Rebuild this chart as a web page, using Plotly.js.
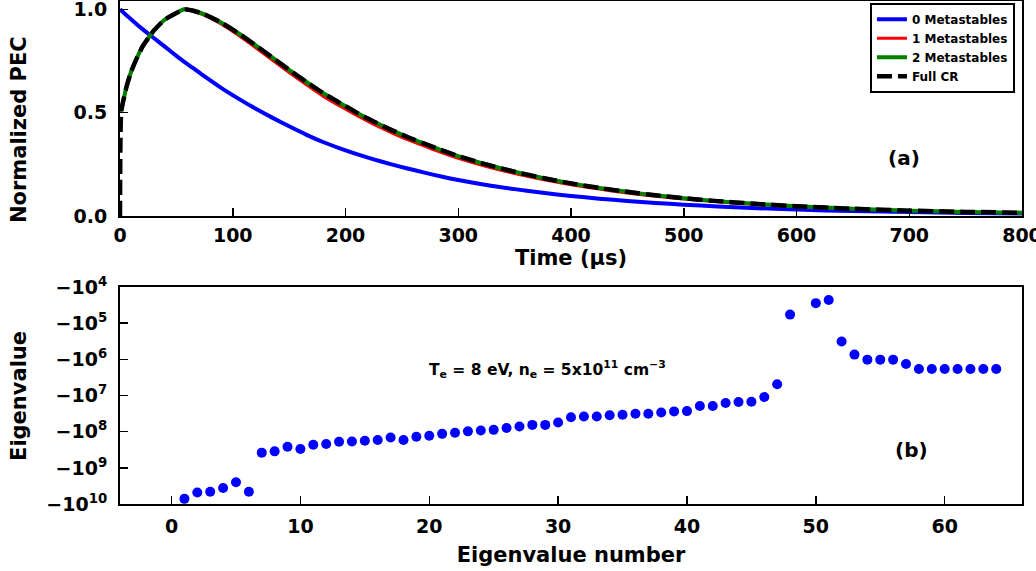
<!DOCTYPE html>
<html>
<head>
<meta charset="utf-8">
<script src="https://cdn.plot.ly/plotly-3.0.1.min.js"></script>
<style>
  html, body { margin: 0; padding: 0; background: #ffffff; }
  #chart { width: 1036px; height: 571px; }
</style>
</head>
<body>
<div id="chart"></div>
<script>
// ---------- Panel (a): normalized PEC vs time ----------
const time = [0, 3, 6, 10, 15, 20, 25, 30, 40, 50, 57, 65, 75, 90, 105, 120, 135, 150, 165, 180,
  195, 210, 225, 240, 255, 270, 285, 300, 325, 350, 375, 400, 425, 450, 475, 500, 530, 560, 600, 650, 700, 750, 800];

const pec0Meta = [1.0, 0.985, 0.970, 0.951, 0.927, 0.904, 0.882, 0.861, 0.818, 0.775, 0.746, 0.715, 0.675,
  0.619, 0.568, 0.52, 0.476, 0.434, 0.394, 0.358, 0.327, 0.299, 0.274, 0.251, 0.23, 0.21, 0.191, 0.174,
  0.150, 0.130, 0.112, 0.097, 0.084, 0.073, 0.063, 0.055, 0.046, 0.039, 0.031, 0.024, 0.019, 0.015, 0.012];

const pec1Meta = [0.50, 0.56, 0.63, 0.70, 0.765, 0.82, 0.86, 0.897, 0.951, 0.982, 1.0, 0.99, 0.97,
  0.928, 0.874, 0.815, 0.754, 0.694, 0.636, 0.58, 0.532, 0.486, 0.443, 0.405, 0.369, 0.338, 0.307, 0.279,
  0.239, 0.205, 0.176, 0.151, 0.13, 0.111, 0.095, 0.082, 0.069, 0.057, 0.045, 0.034, 0.025, 0.019, 0.014];

const pec2Meta = [0.50, 0.56, 0.63, 0.70, 0.765, 0.82, 0.86, 0.897, 0.951, 0.982, 1.0, 0.993, 0.975,
  0.935, 0.884, 0.827, 0.767, 0.707, 0.65, 0.595, 0.547, 0.50, 0.457, 0.418, 0.382, 0.35, 0.319, 0.29,
  0.249, 0.214, 0.184, 0.158, 0.136, 0.117, 0.10, 0.086, 0.072, 0.06, 0.047, 0.035, 0.026, 0.02, 0.016];

const timeFull = [0, 1, 3, 6, 10, 15, 20, 25, 30, 40, 50, 57, 65, 75, 90, 105, 120, 135, 150, 165, 180,
  195, 210, 225, 240, 255, 270, 285, 300, 325, 350, 375, 400, 425, 450, 475, 500, 530, 560, 600, 650, 700, 750, 800];
const pecFull = [0.0, 0.5, 0.56, 0.63, 0.70, 0.765, 0.82, 0.86, 0.897, 0.951, 0.982, 1.0, 0.993, 0.975,
  0.935, 0.884, 0.827, 0.767, 0.707, 0.65, 0.595, 0.547, 0.50, 0.457, 0.418, 0.382, 0.35, 0.319, 0.29,
  0.249, 0.214, 0.184, 0.158, 0.136, 0.117, 0.10, 0.086, 0.072, 0.06, 0.047, 0.035, 0.026, 0.02, 0.016];

const seriesNames = ['0 Metastables', '1 Metastables', '2 Metastables', 'Full CR'];
const timeTicks = [0, 100, 200, 300, 400, 500, 600, 700, 800];
const pecTicks = [0.0, 0.5, 1.0];
const pecTickText = ['0.0', '0.5', '1.0'];

// ---------- Panel (b): eigenvalues ----------
const eigNum = [1, 2, 3, 4, 5, 6, 7, 8, 9, 10, 11, 12, 13, 14, 15, 16, 17, 18, 19, 20,
  21, 22, 23, 24, 25, 26, 27, 28, 29, 30, 31, 32, 33, 34, 35, 36, 37, 38, 39, 40,
  41, 42, 43, 44, 45, 46, 47, 48, 50, 51, 52, 53, 54, 55, 56, 57, 58, 59, 60, 61, 62, 63, 64];
const eigVal = [-7.2e9, -4.8e9, -4.6e9, -3.6e9, -2.5e9, -4.6e9, -3.8e8, -3.5e8, -2.6e8, -3.0e8,
  -2.3e8, -2.2e8, -1.9e8, -1.86e8, -1.78e8, -1.7e8, -1.45e8, -1.7e8, -1.38e8, -1.29e8,
  -1.15e8, -1.07e8, -9.8e7, -9.3e7, -8.9e7, -7.9e7, -7.2e7, -6.5e7, -6.5e7, -5.6e7,
  -4.0e7, -3.8e7, -3.8e7, -3.5e7, -3.4e7, -3.2e7, -3.2e7, -2.95e7, -2.75e7, -2.7e7,
  -1.95e7, -1.95e7, -1.62e7, -1.51e7, -1.48e7, -1.1e7, -4.9e6, -5.8e4, -2.8e4, -2.3e4,
  -3.2e5, -7.4e5, -1.02e6, -1.02e6, -1.02e6, -1.35e6, -1.86e6, -1.86e6, -1.86e6, -1.86e6,
  -1.86e6, -1.86e6, -1.86e6];
const eigTicks = [0, 10, 20, 30, 40, 50, 60];
const eigExpTicks = [4, 5, 6, 7, 8, 9, 10];

// symmetric-log style mapping for negative eigenvalues: plot log10(|λ|) on a reversed axis
const eigY = eigVal.map(v => Math.log10(-v));
const eigTickText = eigExpTicks.map(e => '\u2212' + '10<sup>' + e + '</sup>');

const FONT = 'DejaVu Sans';
const bold = (size) => ({family: FONT, size: size, color: '#000000', weight: 'bold'});

const traces = [
  {x: time, y: pec0Meta, name: seriesNames[0], type: 'scatter', mode: 'lines',
   line: {color: '#0000ff', width: 4, shape: 'spline', smoothing: 0.7}, xaxis: 'x', yaxis: 'y'},
  {x: time, y: pec1Meta, name: seriesNames[1], type: 'scatter', mode: 'lines',
   line: {color: '#ff0000', width: 3, shape: 'spline', smoothing: 0.7}, xaxis: 'x', yaxis: 'y'},
  {x: time, y: pec2Meta, name: seriesNames[2], type: 'scatter', mode: 'lines',
   line: {color: '#008000', width: 4, shape: 'spline', smoothing: 0.7}, xaxis: 'x', yaxis: 'y'},
  {x: timeFull, y: pecFull, name: seriesNames[3], type: 'scatter', mode: 'lines',
   line: {color: '#000000', width: 4.5, dash: '15px,6px', shape: 'spline', smoothing: 0.5}, xaxis: 'x', yaxis: 'y'},
  {x: eigNum, y: eigY, type: 'scatter', mode: 'markers', showlegend: false,
   marker: {color: '#0000ff', size: 10, line: {width: 0}}, xaxis: 'x2', yaxis: 'y2'}
];

const axisCommon = {
  showline: true, linecolor: '#000000', linewidth: 2, mirror: true,
  ticks: 'inside', ticklen: 8, tickwidth: 1.5, tickcolor: '#000000',
  showgrid: false, zeroline: false, tickfont: bold(19),
  ticklabeloverflow: 'allow'
};

const layout = {
  width: 1036, height: 571,
  margin: {l: 120, r: 14, t: 0, b: 0},
  paper_bgcolor: '#ffffff', plot_bgcolor: '#ffffff',
  font: bold(19),
  showlegend: true,
  legend: {
    x: 0.9922, xanchor: 'right', y: 0.995, yanchor: 'top',
    bordercolor: '#000000', borderwidth: 2, bgcolor: '#ffffff',
    font: bold(12)
  },
  xaxis: Object.assign({}, axisCommon, {
    domain: [0, 1], anchor: 'y', range: [0, 800],
    tickvals: timeTicks, ticklabelstandoff: 1,
    title: {text: 'Time (\u03bcs)', font: bold(21), standoff: 3}
  }),
  yaxis: Object.assign({}, axisCommon, {
    domain: [0.6217, 0.9982], anchor: 'x', range: [0, 1.04],
    tickvals: pecTicks, ticktext: pecTickText, ticklabelstandoff: 7
  }),
  xaxis2: Object.assign({}, axisCommon, {
    domain: [0, 1], anchor: 'y2', range: [-4, 66],
    tickvals: eigTicks, ticklabelstandoff: 4,
    title: {text: 'Eigenvalue number', font: bold(21), standoff: 11}
  }),
  yaxis2: Object.assign({}, axisCommon, {
    domain: [0.1173, 0.4974], anchor: 'x2', range: [10, 4],
    tickvals: eigExpTicks, ticktext: eigTickText, ticklabelstandoff: 7
  }),
  annotations: [
    {text: 'Normalized PEC', xref: 'paper', yref: 'paper', x: -0.112, y: 0.774,
     textangle: -90, showarrow: false, font: bold(21), xanchor: 'center', yanchor: 'middle'},
    {text: 'Eigenvalue', xref: 'paper', yref: 'paper', x: -0.112, y: 0.3065,
     textangle: -90, showarrow: false, font: bold(21), xanchor: 'center', yanchor: 'middle'},
    {text: '(a)', xref: 'x', yref: 'y', x: 695, y: 0.28, showarrow: false, font: bold(20)},
    {text: '(b)', xref: 'x2', yref: 'y2', x: 57.4, y: 8.5, showarrow: false, font: bold(20)},
    {text: 'T<sub>e</sub> = 8 eV, n<sub>e</sub> = 5x10<sup>11</sup> cm<sup>\u22123</sup>',
     xref: 'x2', yref: 'y2', x: 29.2, y: 6.29, showarrow: false, font: bold(15.5)}
  ]
};

Plotly.newPlot('chart', traces, layout, {displayModeBar: false, staticPlot: true});
</script>
</body>
</html>
